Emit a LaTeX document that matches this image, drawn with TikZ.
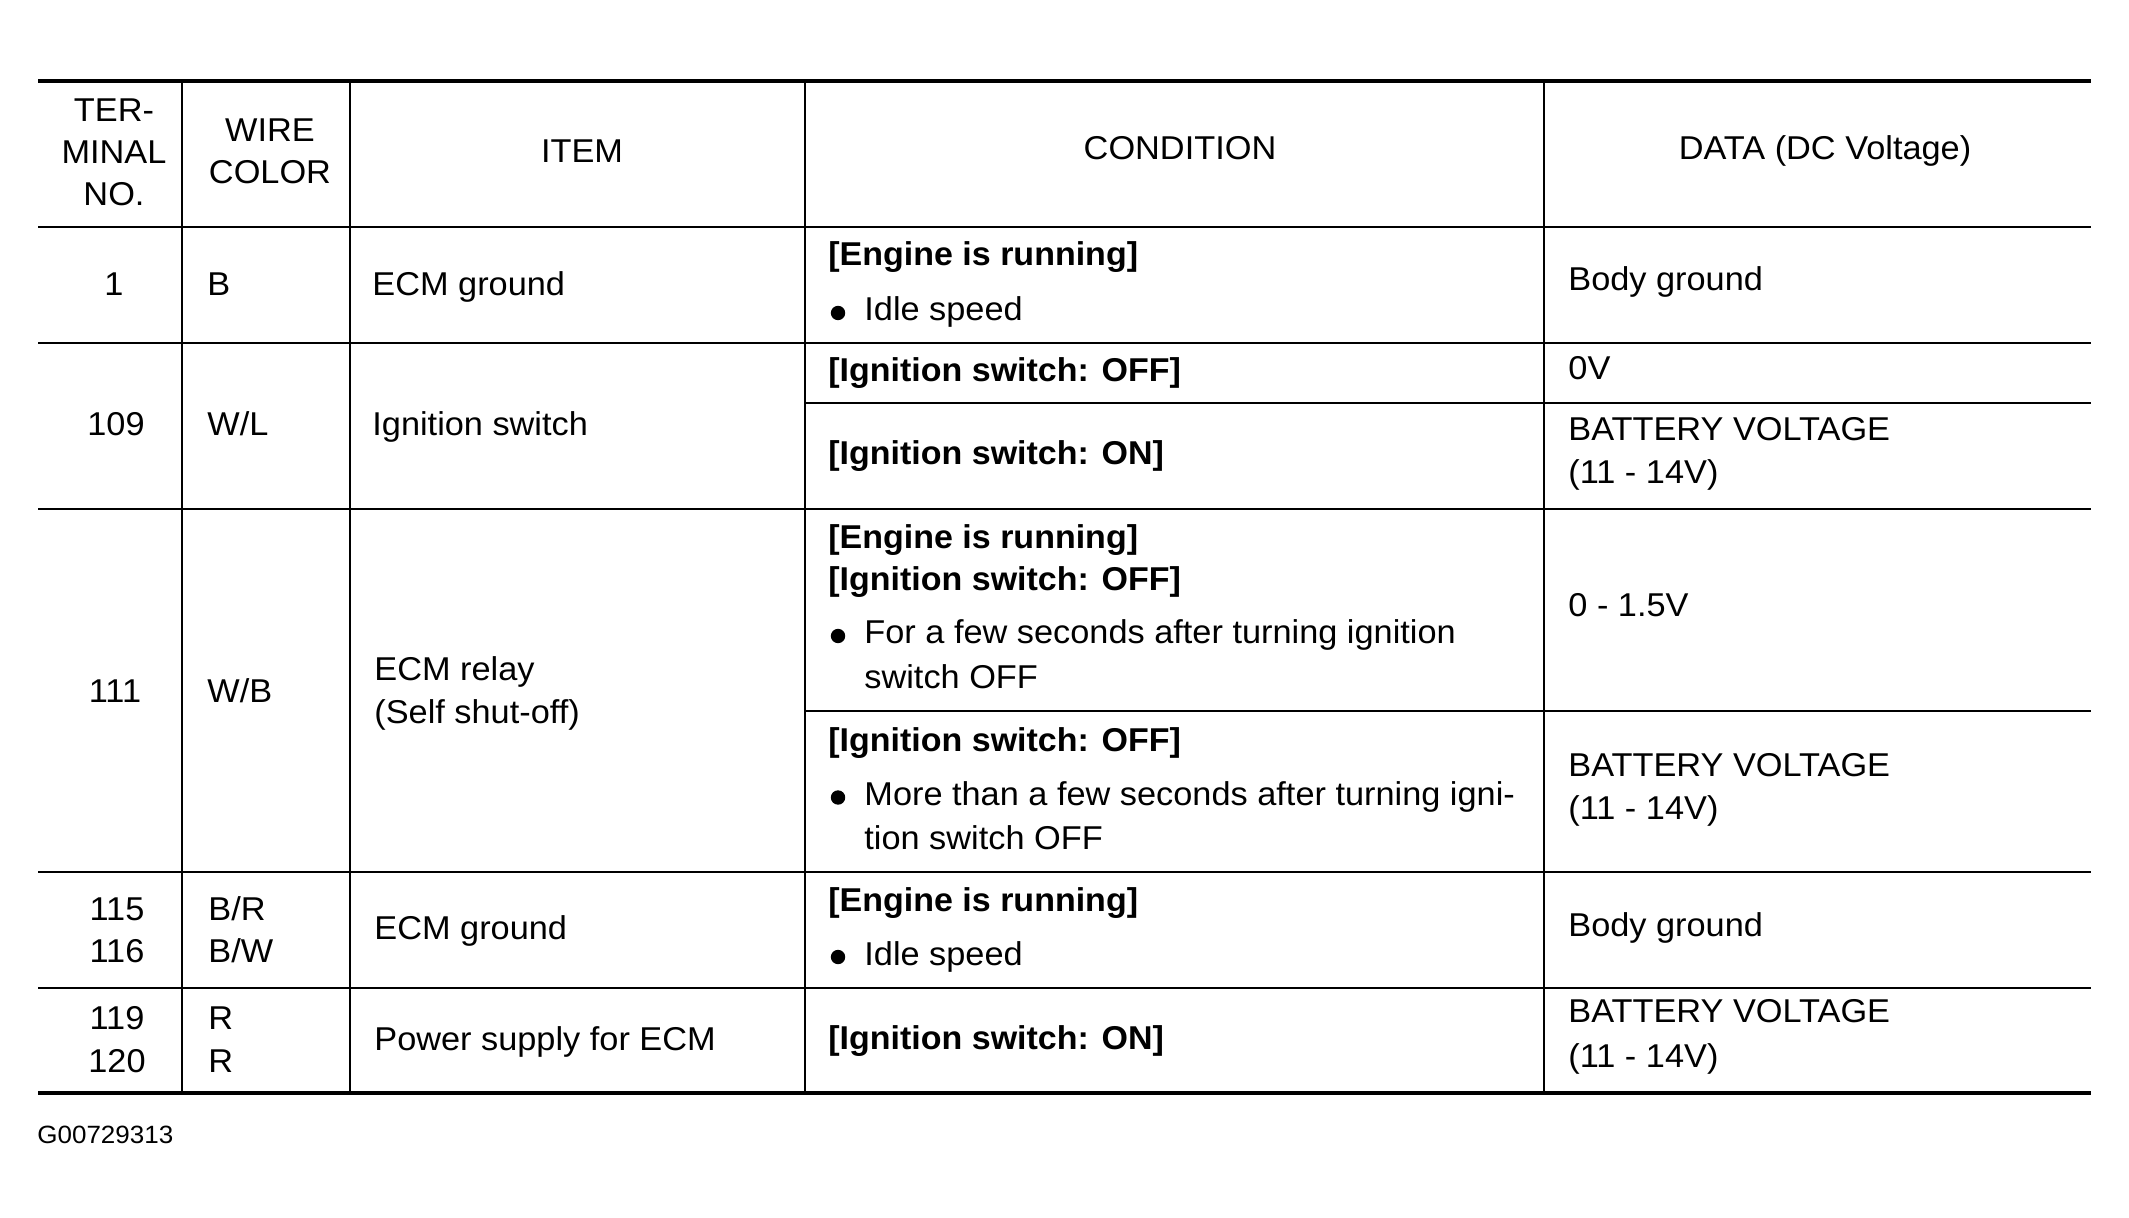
\documentclass[tikz,border=0pt]{standalone}
\usepackage{fontspec}
\setmainfont{Liberation Sans}[FakeStretch=1.04,BoldFeatures={FakeStretch=1.03}]
\begin{document}
\begin{tikzpicture}[x=0.5pt,y=-0.5pt,
  txt/.style={inner sep=0pt,anchor=base west,font=\fontsize{16.5}{20}\selectfont},
  ctxt/.style={inner sep=0pt,anchor=base,font=\fontsize{16.5}{20}\selectfont},
  btxt/.style={inner sep=0pt,anchor=base west,font=\fontsize{16.5}{20}\selectfont\bfseries},
  thin/.style={line width=0.8pt},
  thick/.style={line width=2.2pt},
  dot/.style={circle,fill=black,inner sep=0pt,minimum size=7.2pt}]
\useasboundingbox (0,0) rectangle (2129,1218);
% rules
\draw[thick] (38,81) -- (2091,81);
\draw[thin] (38,227) -- (2091,227);
\draw[thin] (38,343) -- (2091,343);
\draw[thin] (805,403) -- (2091,403);
\draw[thin] (38,509) -- (2091,509);
\draw[thin] (805,711) -- (2091,711);
\draw[thin] (38,872) -- (2091,872);
\draw[thin] (38,988) -- (2091,988);
\draw[thick] (38,1093) -- (2091,1093);
\foreach \xx in {182,350,805,1544} \draw[thin] (\xx,81) -- (\xx,1093);
% header
\node[ctxt] (h1a) at (114,122) {TER-};
\node[ctxt] (h1b) at (114,164) {MINAL};
\node[ctxt] (h1c) at (114,206) {NO.};
\node[ctxt] (h2a) at (270,142) {WIRE};
\node[ctxt] (h2b) at (270,184) {COLOR};
\node[ctxt] (h3) at (582,163) {ITEM};
\node[ctxt] (h4) at (1180,160) {CONDITION};
\node[ctxt] (h5) at (1825,160) {DATA (DC Voltage)};
% row 1
\node[ctxt] (r1n) at (114,296) {1};
\node[txt] (r1w) at (207,296) {B};
\node[txt] (r1i) at (372,296) {ECM ground};
\node[btxt] (r1c1) at (828,266) {[Engine is running]};
\node[dot] (r1b) at (838,313) {};
\node[txt] (r1c2) at (864,321) {Idle speed};
\node[txt] (r1d) at (1568,291) {Body ground};
% row 2
\node[ctxt] (r2n) at (116,436) {109};
\node[txt] (r2w) at (207,436) {W/L};
\node[txt] (r2i) at (372,436) {Ignition switch};
\node[btxt] (r2c1) at (828,382) {[Ignition switch: OFF]};
\node[btxt] (r2c2) at (828,465) {[Ignition switch: ON]};
\node[txt] (r2d1) at (1568,380) {0V};
\node[txt] (r2d2) at (1568,441) {BATTERY VOLTAGE};
\node[txt] (r2d3) at (1568,484) {(11 - 14V)};
% row 3
\node[ctxt] (r3n) at (115,702) {111};
\node[txt] (r3w) at (207,702) {W/B};
\node[txt] (r3i1) at (374,680) {ECM relay};
\node[txt] (r3i2) at (374,723) {(Self shut-off)};
\node[btxt] (r3c1) at (828,549) {[Engine is running]};
\node[btxt] (r3c2) at (828,591) {[Ignition switch: OFF]};
\node[dot] (r3b1) at (838,636) {};
\node[txt] (r3c3) at (864,644) {For a few seconds after turning ignition};
\node[txt] (r3c4) at (864,688) {switch OFF};
\node[btxt] (r3c5) at (828,751) {[Ignition switch: OFF]};
\node[dot] (r3b2) at (838,797.5) {};
\node[txt] (r3c6) at (864,805.5) {More than a few seconds after turning igni-};
\node[txt] (r3c7) at (864,849) {tion switch OFF};
\node[txt] (r3d1) at (1568,617) {0 - 1.5V};
\node[txt] (r3d2) at (1568,776) {BATTERY VOLTAGE};
\node[txt] (r3d3) at (1568,819) {(11 - 14V)};
% row 4
\node[ctxt] (r4n1) at (117,920) {115};
\node[ctxt] (r4n2) at (117,962) {116};
\node[txt] (r4w1) at (208,920) {B/R};
\node[txt] (r4w2) at (208,962) {B/W};
\node[txt] (r4i) at (374,939) {ECM ground};
\node[btxt] (r4c1) at (828,911) {[Engine is running]};
\node[dot] (r4b) at (838,957) {};
\node[txt] (r4c2) at (864,965) {Idle speed};
\node[txt] (r4d) at (1568,936) {Body ground};
% row 5
\node[ctxt] (r5n1) at (117,1029.5) {119};
\node[ctxt] (r5n2) at (117,1072) {120};
\node[txt] (r5w1) at (208,1029.5) {R};
\node[txt] (r5w2) at (208,1072) {R};
\node[txt] (r5i) at (374,1050) {Power supply for ECM};
\node[btxt] (r5c) at (828,1049) {[Ignition switch: ON]};
\node[txt] (r5d1) at (1568,1022) {BATTERY VOLTAGE};
\node[txt] (r5d2) at (1568,1067) {(11 - 14V)};
% footer
\node[inner sep=0pt,anchor=base west,font=\fontsize{12.5}{15}\selectfont] (foot) at (37,1143) {G00729313};
\end{tikzpicture}
\end{document}
